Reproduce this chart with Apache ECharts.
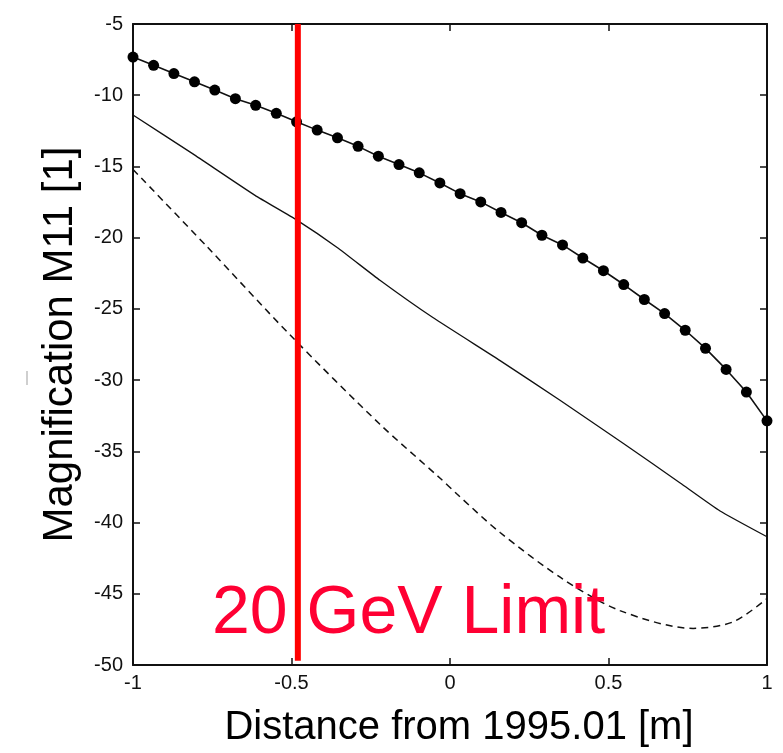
<!DOCTYPE html>
<html>
<head>
<meta charset="utf-8">
<script src="https://cdn.jsdelivr.net/npm/echarts@6/dist/echarts.min.js"></script>
<style>
html,body{margin:0;padding:0;background:#fff;}
#chart{width:783px;height:753px;}
</style>
</head>
<body>
<div id="chart"></div>
<script>
// x positions of the marked series (sampled points)
var xMarked = [-1, -0.935, -0.871, -0.806, -0.742, -0.677, -0.613, -0.548, -0.484, -0.419,
  -0.355, -0.290, -0.226, -0.161, -0.097, -0.032, 0.032, 0.097, 0.161, 0.226,
  0.290, 0.355, 0.419, 0.484, 0.548, 0.613, 0.677, 0.742, 0.806, 0.871, 0.935, 1];
var yMarked = [-7.32, -7.90, -8.48, -9.06, -9.64, -10.24, -10.71, -11.27, -11.87, -12.45,
  -12.99, -13.59, -14.28, -14.87, -15.45, -16.16, -16.91, -17.49, -18.23, -18.95,
  -19.83, -20.51, -21.43, -22.32, -23.29, -24.34, -25.33, -26.50, -27.77, -29.25, -30.84, -32.86];

// solid curve
var xSolid = [-1, -0.811, -0.615, -0.483, -0.356, -0.221, -0.054, 0.158, 0.347, 0.546, 0.726, 0.852, 1];
var ySolid = [-11.39, -14.12, -17.03, -18.77, -20.69, -22.99, -25.61, -28.63, -31.41, -34.43, -37.22, -39.19, -41.0];

// dashed curve
var xDashed = [-1, -0.767, -0.505, -0.221, -0.032, 0.022, 0.158, 0.356, 0.536, 0.767, 0.893, 1];
var yDashed = [-15.21, -20.62, -26.82, -33.1, -36.87, -38.0, -40.7, -43.97, -46.18, -47.43, -46.97, -45.34];

// 20 GeV limit marker
var limitX = -0.48;
var limitY = [-5, -49.7];
var limitText = '20 GeV Limit';

var xTicks = { min: -1, max: 1, interval: 0.5 };
var yTicks = { min: -50, max: -5, interval: 5 };

function zip(xs, ys) { return xs.map(function (x, i) { return [x, ys[i]]; }); }

var FONT = "'Liberation Sans', Arial, Helvetica, sans-serif";
var chart = echarts.init(document.getElementById('chart'), null, { renderer: 'canvas' });

var axisLine = { show: true, onZero: false, lineStyle: { color: '#111', width: 2 } };
var axisTick = { show: true, inside: true, length: 7, lineStyle: { color: '#111', width: 1.5 } };

chart.setOption({
  animation: false,
  backgroundColor: '#ffffff',
  grid: { left: 133, right: 16, top: 24, bottom: 83, containLabel: false },
  xAxis: [{
    type: 'value', position: 'bottom', min: xTicks.min, max: xTicks.max, interval: xTicks.interval,
    axisLine: axisLine, axisTick: axisTick, splitLine: { show: false },
    axisLabel: { fontFamily: FONT, fontSize: 20, color: '#111', margin: 8 },
    name: 'Distance from 1995.01 [m]', nameLocation: 'middle', nameGap: 43,
    nameTextStyle: { fontFamily: FONT, fontSize: 40, color: '#000', padding: [0, 0, 0, 18] }
  }, {
    type: 'value', position: 'top', min: xTicks.min, max: xTicks.max, interval: xTicks.interval,
    axisLine: axisLine, axisTick: axisTick, splitLine: { show: false }, axisLabel: { show: false }
  }],
  yAxis: [{
    type: 'value', position: 'left', min: yTicks.min, max: yTicks.max, interval: yTicks.interval,
    axisLine: axisLine, axisTick: axisTick, splitLine: { show: false },
    axisLabel: { fontFamily: FONT, fontSize: 20, color: '#111', margin: 10 },
    name: 'Magnification M11 [1]', nameLocation: 'middle', nameGap: 52, nameRotate: 90,
    nameTextStyle: { fontFamily: FONT, fontSize: 42, color: '#000' }
  }, {
    type: 'value', position: 'right', min: yTicks.min, max: yTicks.max, interval: yTicks.interval,
    axisLine: axisLine, axisTick: axisTick, splitLine: { show: false }, axisLabel: { show: false }
  }],
  series: [{
    name: 'dashed', type: 'line', data: zip(xDashed, yDashed), smooth: 0.3, showSymbol: false,
    lineStyle: { color: '#111', width: 1.5, type: [7, 5] }, z: 2
  }, {
    name: 'solid', type: 'line', data: zip(xSolid, ySolid), smooth: 0.15, showSymbol: false,
    lineStyle: { color: '#111', width: 1.3 }, z: 2
  }, {
    name: 'marked', type: 'line', data: zip(xMarked, yMarked), symbol: 'circle', symbolSize: 11,
    showSymbol: true, itemStyle: { color: '#000' },
    lineStyle: { color: '#111', width: 1.6 }, z: 3
  }, {
    name: 'limit', type: 'line', data: [[limitX, limitY[0]], [limitX, limitY[1]]], showSymbol: false,
    lineStyle: { color: '#ff0000', width: 6 }, z: 4
  }],
  graphic: [{
    type: 'text', left: 212, top: 580, z: 10,
    style: { text: limitText, font: '68px ' + FONT, fill: '#ff0033' }
  }, {
    type: 'rect', left: 26, top: 371, shape: { width: 2, height: 14 }, style: { fill: '#cfcfcf' }
  }]
});
</script>
</body>
</html>
